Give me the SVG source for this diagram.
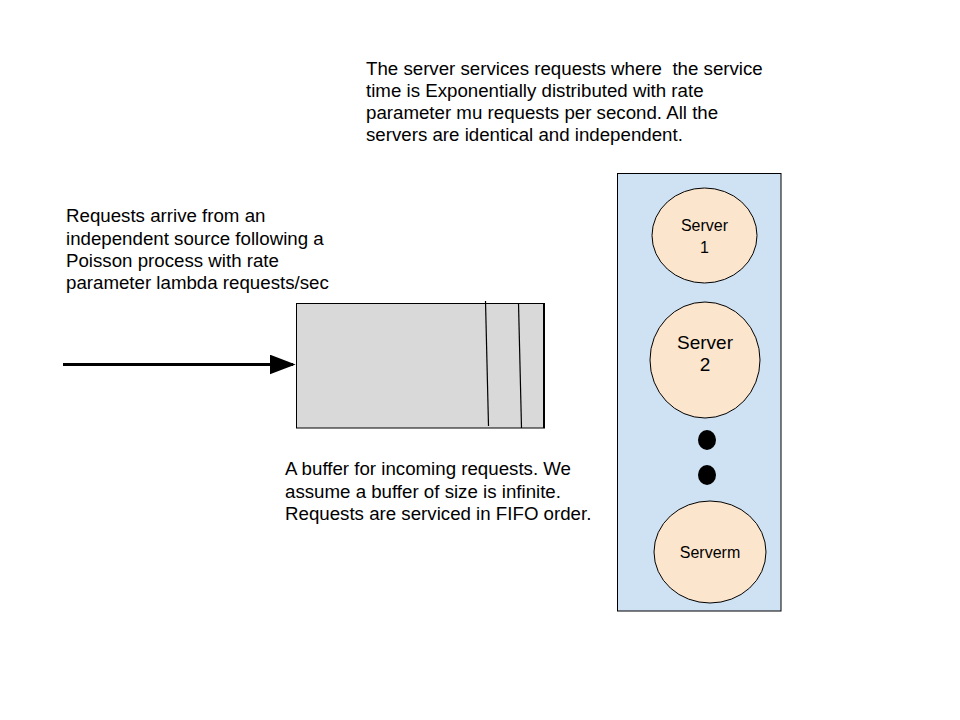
<svg xmlns="http://www.w3.org/2000/svg" width="960" height="720" viewBox="0 0 960 720">
<defs>
<style>
.t{font-family:"Liberation Sans",Arial,sans-serif;font-size:18.7px;fill:#000;white-space:pre}
.s{font-family:"Liberation Sans",Arial,sans-serif;fill:#000;text-anchor:middle}
.srv{fill:#fce5cd;stroke:#000;stroke-width:1}
</style>
<marker id="ah2" viewBox="0 0 10 10" refX="9" refY="5" markerWidth="26" markerHeight="20" markerUnits="userSpaceOnUse" orient="auto" preserveAspectRatio="none">
<path d="M0,0 L10,5 L0,10 Z" fill="#000"/>
</marker>
</defs>
<rect width="960" height="720" fill="#fff"/>
<g id="text-top">
<text class="t" x="366" y="75" xml:space="preserve">The server services requests where  the service</text>
<text class="t" x="366" y="97">time is Exponentially distributed with rate</text>
<text class="t" x="366" y="119">parameter mu requests per second. All the</text>
<text class="t" x="366" y="141">servers are identical and independent.</text>
</g>
<g id="text-left">
<text class="t" x="66" y="222">Requests arrive from an</text>
<text class="t" x="66" y="245">independent source following a</text>
<text class="t" x="66" y="267">Poisson process with rate</text>
<text class="t" x="66" y="289">parameter lambda requests/sec</text>
</g>
<g id="text-bottom">
<text class="t" x="285" y="475">A buffer for incoming requests. We</text>
<text class="t" x="285" y="498">assume a buffer of size is infinite.</text>
<text class="t" x="285" y="520">Requests are serviced in FIFO order.</text>
</g>
<g id="buffer">
<rect x="296.5" y="303.5" width="248" height="124.5" fill="#d9d9d9" stroke="#000" stroke-width="1"/>
<line x1="485.5" y1="301" x2="488.5" y2="426" stroke="#000" stroke-width="1.2"/>
<line x1="518.5" y1="303" x2="521.5" y2="428" stroke="#000" stroke-width="1.2"/>
<line x1="544" y1="303" x2="544" y2="428" stroke="#000" stroke-width="2"/>
</g>
<g id="server-pool">
<rect x="617.5" y="173.5" width="163.5" height="437.5" fill="#cfe2f3" stroke="#000" stroke-width="1"/>
</g>
<g id="server1">
<ellipse class="srv" cx="704.5" cy="235.5" rx="52.5" ry="47.5"/>
<text class="s" x="704.5" y="231" font-size="16">Server</text>
<text class="s" x="704.5" y="253" font-size="16">1</text>
</g>
<g id="server2">
<ellipse class="srv" cx="705" cy="360" rx="55" ry="58"/>
<text class="s" x="705" y="349" font-size="19">Server</text>
<text class="s" x="705" y="371" font-size="19">2</text>
</g>
<g id="dots">
<ellipse cx="707" cy="440" rx="9" ry="10" fill="#000"/>
<ellipse cx="707" cy="475" rx="9" ry="10" fill="#000"/>
</g>
<g id="serverm">
<ellipse class="srv" cx="710" cy="552" rx="56" ry="51"/>
<text class="s" x="710" y="558" font-size="16">Serverm</text>
</g>
<g id="connectors">
<line x1="63" y1="364.5" x2="293" y2="364.5" stroke="#000" stroke-width="3" marker-end="url(#ah2)"/>
</g>
</svg>
